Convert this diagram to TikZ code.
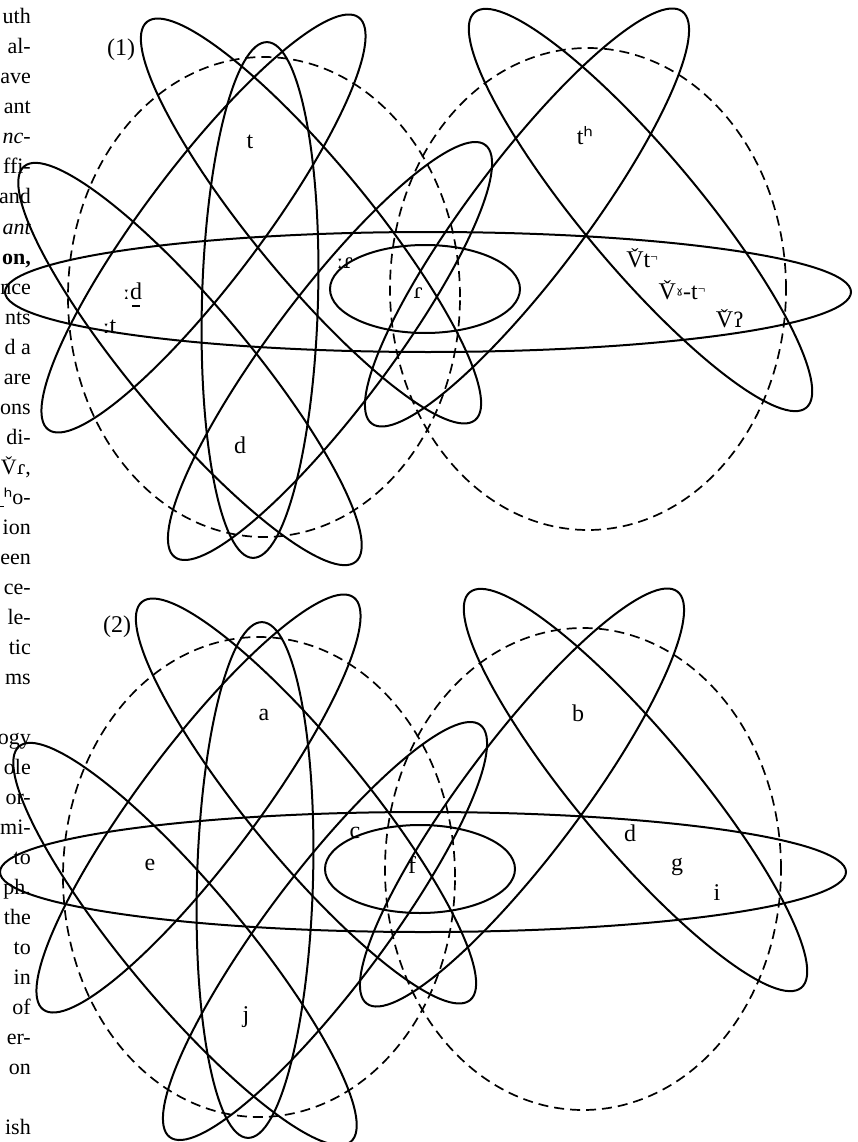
\documentclass[tikz,border=0pt]{standalone}
\usepackage{fontspec}
\usepackage{graphicx}
\setmainfont{Liberation Serif}
\newfontfamily\ipafont{DejaVu Serif}
\newfontfamily\ipasans{DejaVu Sans}
\newcommand\Vc{\ooalign{V\cr\hidewidth\raisebox{0.16em}{\scalebox{0.9}{ˇ}}\hidewidth\cr}}
\newcommand\lng{{\ipasans\scalebox{0.75}{ː}}}
\newcommand\dent{\kern-0.4em\rule[-0.28em]{0.3em}{0.08em}\kern0.1em}
\newcommand\flap{{\ipafont\scalebox{0.85}{ɾ}}}
\newcommand\unrel{\raisebox{0.28em}{\scalebox{0.55}{¬}}}
\newcommand\figset{%
  \draw[guide] (264,297) ellipse [x radius=196pt, y radius=240pt];
  \draw[guide] (588,289) ellipse [x radius=198pt, y radius=241pt];
  \draw[petal, rotate around={88.4:(260,300)}] (260,300) ellipse [x radius=258pt, y radius=58pt];
  \draw[petal, rotate around={-50.5:(311,221)}] (311,221) ellipse [x radius=258pt, y radius=58pt];
  \draw[petal, rotate around={53:(203.5,223.5)}] (203.5,223.5) ellipse [x radius=258pt, y radius=58pt];
  \draw[petal, rotate around={-50:(190,364)}] (190,364) ellipse [x radius=258pt, y radius=58pt];
  \draw[petal, rotate around={53:(330,351)}] (330,351) ellipse [x radius=258pt, y radius=58pt];
  \draw[petal, rotate around={-50:(640.5,210)}] (640.5,210) ellipse [x radius=258pt, y radius=58pt];
  \draw[petal, rotate around={53:(527,217.5)}] (527,217.5) ellipse [x radius=258pt, y radius=58pt];
  \draw[petal] (428,292) ellipse [x radius=423pt, y radius=60pt];
  \draw[petal] (425,289) ellipse [x radius=95pt, y radius=44pt];
}
\tikzset{
  petal/.style={line width=2pt},
  guide/.style={line width=1.7pt, dash pattern=on 10pt off 6pt},
  lab/.style={font=\fontsize{24}{28}\selectfont, inner sep=0pt},
  body/.style={font=\fontsize{22}{26}\selectfont, anchor=base east, inner sep=0pt},
}
\begin{document}
\begin{tikzpicture}[x=1pt,y=-1pt]
\useasboundingbox (0,0) rectangle (857,1142);
\clip (0,0) rectangle (857,1142);
\fill[white] (0,0) rectangle (857,1142);
% left margin text of the page
\node[body] (l0) at (31,24) {uth};
\node[body] (l1) at (31,54) {al-};
\node[body] (l2) at (31,84) {ave};
\node[body] (l3) at (31,114) {ant};
\node[body] (l4) at (31,144) {\itshape nc-};
\node[body] (l5) at (31,174) {ffi-};
\node[body] (l6) at (31,204) {and};
\node[body] (l7) at (31,234) {\itshape ant};
\node[body] (l8) at (31,264) {\bfseries on,};
\node[body] (l9) at (31,294) {nce};
\node[body] (l10) at (31,324) {nts};
\node[body] (l11) at (31,354) {d a};
\node[body] (l12) at (31,384) {are};
\node[body] (l13) at (31,414) {ons};
\node[body] (l14) at (31,444) {di-};
\node[body] (l15) at (31,474) {\Vc\flap,};
\node[body] (l16) at (31,504) {\rule[-0.15em]{0.3em}{0.06em}{\ipasans ʰ}o-};
\node[body] (l17) at (31,534) {ion};
\node[body] (l18) at (31,564) {een};
\node[body] (l19) at (31,594) {ce-};
\node[body] (l20) at (31,624) {le-};
\node[body] (l21) at (31,654) {tic};
\node[body] (l22) at (31,684) {ms};
\node[body] (l24) at (31,744) {ogy};
\node[body] (l25) at (31,774) {ole};
\node[body] (l26) at (31,804) {or-};
\node[body] (l27) at (31,834) {mi-};
\node[body] (l28) at (31,864) {to};
\node[body] (l29) at (31,894) {ph.};
\node[body] (l30) at (31,924) {the};
\node[body] (l31) at (31,954) {to};
\node[body] (l32) at (31,984) {in};
\node[body] (l33) at (31,1014) {of};
\node[body] (l34) at (31,1044) {er-};
\node[body] (l35) at (31,1074) {on};
\node[body] (l37) at (31,1134) {ish};
% diagram (1)
\figset
\node[lab] (n1) at (121,50) {(1)};
\node[lab] (t1) at (250,142) {t};
\node[lab] (th1) at (585,136) {t{\ipasans ʰ}};
\node[lab] (lr1) at (345,263) {\lng\flap};
\node[lab] (r1) at (418,293) {\flap};
\node[lab] (ld1) at (133,295) {\lng d\dent};
\node[lab] (lt1) at (110,327) {\lng t};
\node[lab] (d1) at (240,445) {d};
\node[lab] (vt1) at (642,260) {\Vc t\unrel};
\node[lab] (vgt1) at (682,292) {\Vc{\ipasans\scalebox{0.7}{ˠ}}-t\unrel};
\node[lab] (vq1) at (730,320) {\Vc{\ipafont\scalebox{0.85}{ʔ}}};
% diagram (2)
\begin{scope}[shift={(-5,580)}]
\figset
\node[lab] (n2) at (122,47) {(2)};
\end{scope}
\node[lab] (a2) at (264,715) {a};
\node[lab] (b2) at (578,713) {b};
\node[lab] (c2) at (355,833) {c};
\node[lab] (d2) at (630,833) {d};
\node[lab] (e2) at (150,865) {e};
\node[lab] (f2) at (412,865) {f};
\node[lab] (g2) at (677,867) {g};
\node[lab] (i2) at (717,893) {i};
\node[lab] (j2) at (246,1017) {j};
\end{tikzpicture}
\end{document}
